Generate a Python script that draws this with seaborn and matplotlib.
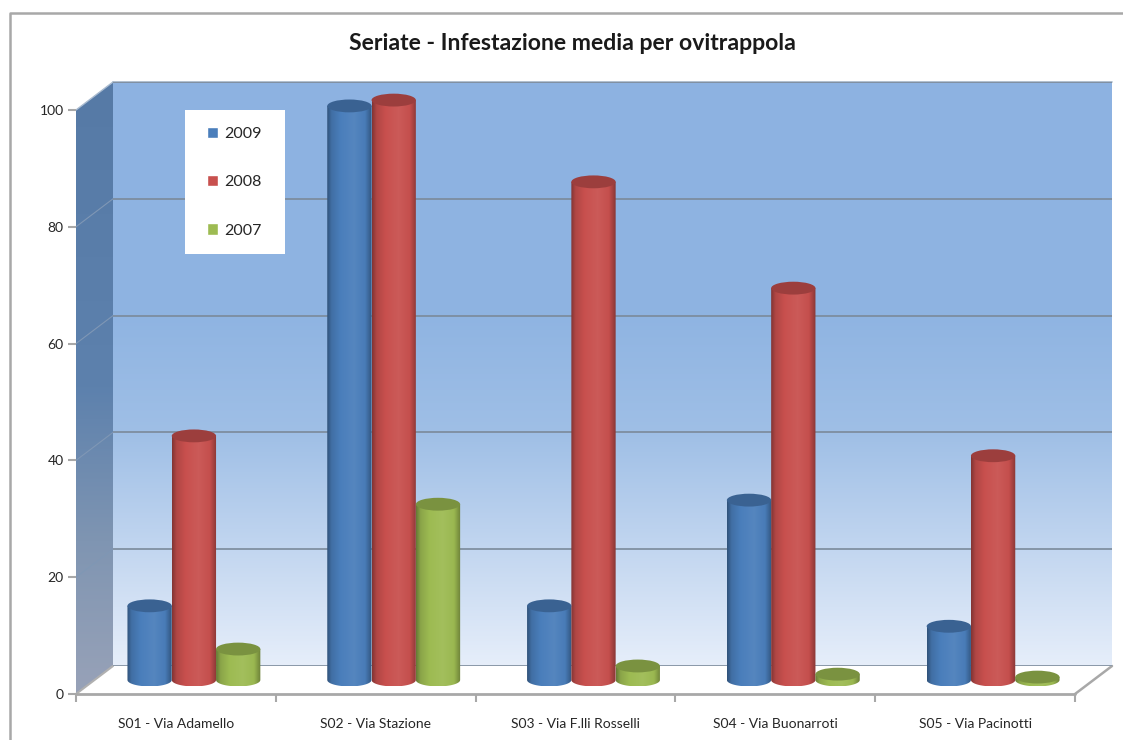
import numpy as np
import pandas as pd
import matplotlib
matplotlib.use("Agg")
import matplotlib.pyplot as plt
import seaborn as sns
from matplotlib.colors import LinearSegmentedColormap, to_rgb
from matplotlib.patches import Ellipse, PathPatch, Polygon, Rectangle
from matplotlib.path import Path

sites = ["S01 - Via Adamello", "S02 - Via Stazione", "S03 - Via F.lli Rosselli",
         "S04 - Via Buonarroti", "S05 - Via Pacinotti"]
years = ["2009", "2008", "2007"]
values_2009 = [12.7, 98.3, 12.7, 30.8, 9.2]
values_2008 = [41.8, 99.3, 85.3, 67.1, 38.4]
values_2007 = [5.3, 30.1, 2.4, 1.0, 0.5]
y_ticks = [0, 20, 40, 60, 80, 100]
title = "Seriate - Infestazione media per ovitrappola"
colors = ["#4a7ebb", "#c8504e", "#9dbb52"]

W, H = 1123, 740
sns.set_theme(style="white")
plt.rcParams["font.family"] = ["Lato", "DejaVu Sans"]


def px_axes(fig, x0, y_top, x1, y_bottom, **kw):
    # axes placed by pixel box of the picture
    return fig.add_axes([x0 / W, 1 - y_bottom / H, (x1 - x0) / W, (y_bottom - y_top) / H], **kw)


def shade(rgb, f):
    rgb = np.array(rgb)
    return tuple(rgb * f) if f <= 1 else tuple(rgb + (1 - rgb) * (f - 1))


fig = plt.figure(figsize=(W / 100, H / 100), dpi=100, facecolor="white")

# frame, side wall, floor
decor = px_axes(fig, 0, 0, W, H, zorder=0)
decor.axis("off")
decor.plot([10, 10, W], [H, 13, 13], color="#a8a8a8", lw=1.8)
side_cmap = LinearSegmentedColormap.from_list(
    "side", [(0, "#567aa6"), (0.5, "#5d81ad"), (0.75, "#7f95b2"), (1, "#98a2b8")])
im = decor.imshow(np.linspace(0, 1, 256)[:, None], cmap=side_cmap, aspect="auto",
                  extent=(76, 113, 694, 82))
im.set_clip_path(Polygon([(76, 694), (113, 666), (113, 82), (76, 110)], transform=decor.transData))
for v in y_ticks[1:-1]:
    yy = 694 - v * 5.84
    decor.plot([76, 113], [yy, yy - 28], color="#7f97b5", lw=0.8)
decor.plot([76, 113], [694, 666], color="#b0b0b0", lw=1.5)
decor.plot([76, 113], [110, 82], color="#a9bbd0", lw=1)
decor.plot([1075, 1112], [694, 666], color="#a8a8a8", lw=1.8)
decor.plot([76, 1075], [694, 694], color="#a8a8a8", lw=2)
decor.set_xlim(0, W)
decor.set_ylim(H, 0)

# back wall
wall = px_axes(fig, 113, 82, 1112, 666, zorder=1)
wall_cmap = LinearSegmentedColormap.from_list(
    "wall", [(0, "#e6eefa"), (0.2, "#c2d6f0"), (0.4, "#9fbfe6"), (0.6, "#8fb4e2"), (1, "#8db2e1")])
wall.imshow(np.linspace(1, 0, 256)[:, None], cmap=wall_cmap, aspect="auto", extent=(0, 1, 0, 100), zorder=0)
wall.set_xlim(0, 1)
wall.set_ylim(0, 100)
wall.set_xticks([])
wall.set_yticks(y_ticks)
wall.set_yticklabels([])
wall.tick_params(length=0)
wall.grid(axis="y", color="#7b8a9a", lw=1.2, zorder=1)
wall.set_axisbelow(False)
for s in wall.spines.values():
    s.set_visible(False)
wall.plot([0, 1], [100, 100], color="#a3b4c6", lw=1.2, clip_on=False)

# front axis with ticks and labels
ax = px_axes(fig, 76, 110, 1075, 694, zorder=2)
ax.patch.set_alpha(0)
ax.set_xlim(-0.5, 4.5)
ax.set_ylim(0, 100)
ax.set_yticks(y_ticks)
ax.set_xticks(range(len(sites)))
ax.set_xticklabels(sites, fontsize=10, color="#262626")
ax.set_xticks(np.arange(-0.5, 5), minor=True)
ax.tick_params(axis="x", which="major", length=0, pad=17)
ax.tick_params(axis="x", which="minor", length=6, width=1.5, color="#a8a8a8", bottom=True)
ax.tick_params(axis="y", length=6, width=1.5, color="#a8a8a8", labelsize=10, labelcolor="#262626", pad=3, left=True)
for s in ax.spines.values():
    s.set_visible(False)

# bars, half a depth step behind the front axis
df = pd.DataFrame({
    "site": sites * 3,
    "year": np.repeat(years, len(sites)),
    "value": values_2009 + values_2008 + values_2007,
})
# three extra units below zero so the round bar bottoms are not cut by the axes
bar_ax = px_axes(fig, 94, 96, 1093, 680 + 3 * 5.84, zorder=3)
bar_ax.patch.set_alpha(0)
sns.barplot(data=df, x="site", y="value", hue="year", hue_order=years, palette=colors,
            width=0.665, gap=0, saturation=1, ax=bar_ax)
bar_ax.axis("off")

cap = 1.1
for container, col in zip(bar_ax.containers, colors):
    rgb = to_rgb(col)
    cmap = LinearSegmentedColormap.from_list(col, [
        (0, shade(rgb, 0.65)), (0.1, shade(rgb, 0.88)), (0.3, shade(rgb, 1.0)),
        (0.6, shade(rgb, 1.06)), (0.85, shade(rgb, 0.98)), (1, shade(rgb, 0.68))])
    for bar in container:
        x0, w, h = bar.get_x(), bar.get_width(), bar.get_height()
        bar.set_visible(False)
        theta = np.linspace(np.pi, 2 * np.pi, 40)
        lower = [(x0 + w / 2 + w / 2 * np.cos(t), cap * np.sin(t)) for t in theta]
        body = [(x0, h)] + lower + [(x0 + w, h), (x0, h)]
        clip = PathPatch(Path(body), transform=bar_ax.transData)
        img = bar_ax.imshow(np.linspace(0, 1, 128)[None, :], cmap=cmap, aspect="auto",
                            extent=(x0, x0 + w, -cap, h), zorder=3)
        img.set_clip_path(clip)
        bar_ax.add_patch(Ellipse((x0 + w / 2, h), w, 2 * cap, fc=shade(rgb, 0.78), ec="none",
                                 zorder=4, clip_on=False))
bar_ax.set_xlim(-0.5, 4.5)
bar_ax.set_ylim(-3, 100)

# legend sits on its own white box
bar_ax.add_patch(Rectangle((185 / W, 1 - 254 / H), 100 / W, 144 / H, transform=fig.transFigure,
                           fc="white", ec="none", zorder=5, clip_on=False))
sns.move_legend(bar_ax, "upper left", bbox_to_anchor=(207 / W, 1 - 127 / H),
                bbox_transform=fig.transFigure, title=None, frameon=False, borderaxespad=0,
                fontsize=11.5, labelcolor="#262626", handlelength=0.7, handleheight=0.7,
                handletextpad=0.35, labelspacing=2.13, borderpad=0)
bar_ax.get_legend().set_zorder(6)

fig.text(572 / W, 1 - 43 / H, title, ha="center", va="center", fontsize=16.6, fontweight="bold", color="#1a1a1a")

fig.savefig("out.png", dpi=100)
